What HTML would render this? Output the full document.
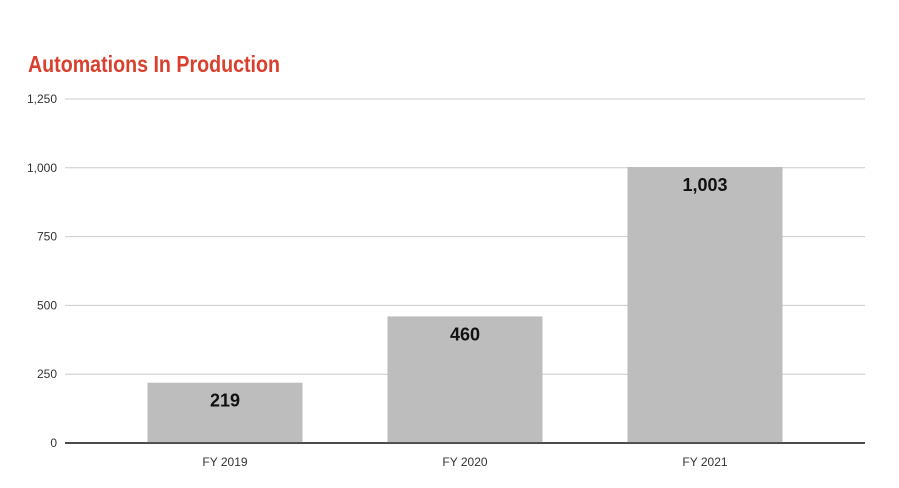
<!DOCTYPE html>
<html><head><meta charset="utf-8"><style>
body{margin:0;background:#fff;width:899px;height:488px;overflow:hidden}
svg{display:block;font-family:"Liberation Sans",sans-serif}
</style></head><body>
<svg id="c" width="899" height="488">
<text x="28" y="72" font-size="23" font-weight="bold" fill="#d9412e" textLength="252" lengthAdjust="spacingAndGlyphs">Automations In Production</text>
</svg>
<script>
const categories=["FY 2019","FY 2020","FY 2021"];
const values=[219,460,1003];
const valueLabels=["219","460","1,003"];
const ticks=[0,250,500,750,1000,1250];
const tickLabels=["0","250","500","750","1,000","1,250"];
const svg=document.getElementById('c');const NS="http://www.w3.org/2000/svg";
const x0=65,x1=865,y0=443,y1=99,maxV=1250;
const bx0=105,bx1=825;
const y=v=>y0-(v/maxV)*(y0-y1);
const band=(bx1-bx0)/categories.length,bw=155;
function mk(t,a,txt){const e=document.createElementNS(NS,t);for(const k in a)e.setAttribute(k,a[k]);if(txt!=null)e.textContent=txt;svg.appendChild(e);return e;}
ticks.forEach((t,i)=>{
const g=mk('line',{x1:x0,x2:x1,y1:y(t),y2:y(t),stroke:i===0?'#333':'#ccc','stroke-width':i===0?1.5:1});


const l=mk('text',{x:57,y:y(t)+4,'text-anchor':'end','font-size':12,fill:'#333'},tickLabels[i]);


});
categories.forEach((c,i)=>{
const cx=bx0+band*(i+0.5);
const b=mk('rect',{x:cx-bw/2,y:y(values[i]),width:bw,height:y0-y(values[i]),fill:'#bdbdbe'});


const v=mk('text',{x:cx,y:y(values[i])+24,'text-anchor':'middle','font-size':18,'font-weight':'bold',fill:'#111'},valueLabels[i]);


const l=mk('text',{x:cx,y:466,'text-anchor':'middle','font-size':12,fill:'#333'},c);


});
const ax=mk('line',{x1:x0,x2:x1,y1:y0,y2:y0,stroke:'#333','stroke-width':1.5});


</script>
</body></html>
